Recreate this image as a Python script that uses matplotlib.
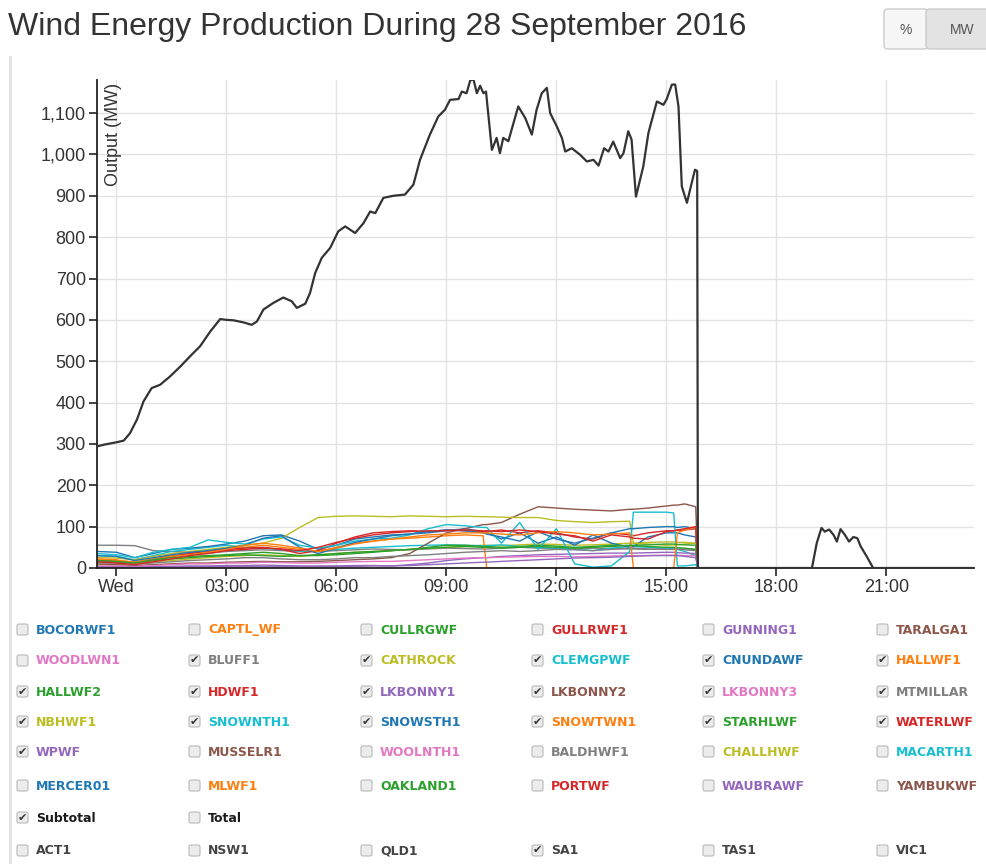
import matplotlib
matplotlib.use("Agg")
from matplotlib import pyplot as plt
from matplotlib import transforms
from matplotlib.patches import FancyBboxPatch
from matplotlib.lines import Line2D

plt.rcParams["font.family"] = ["Liberation Sans", "DejaVu Sans"]

W, H = 987, 864

# SA1 wind subtotal (MW), hours from midnight Wed 28 Sep 2016
sub_hours = [-0.53, -0.35, 0.0, 0.2, 0.37, 0.56, 0.74, 0.96, 1.19, 1.46, 1.74, 2.01, 2.28, 2.56, 2.83,
             3.0, 3.19, 3.46, 3.69, 3.83, 4.01, 4.28, 4.55, 4.78, 4.92, 5.15, 5.28, 5.42, 5.6, 5.83,
             6.05, 6.24, 6.51, 6.74, 6.92, 7.06, 7.28, 7.55, 7.87, 8.1, 8.28, 8.55, 8.78, 8.96, 9.1,
             9.33, 9.42, 9.55, 9.65, 9.74, 9.83, 9.92, 10.01, 10.08, 10.24, 10.37, 10.46, 10.55, 10.69,
             10.83, 10.96, 11.15, 11.33, 11.46, 11.6, 11.74, 11.83, 12.01, 12.15, 12.24, 12.42, 12.65,
             12.83, 13.01, 13.15, 13.3, 13.42, 13.55, 13.74, 13.83, 13.96, 14.05, 14.17, 14.37, 14.51,
             14.74, 14.92, 15.01, 15.15, 15.24, 15.33, 15.42, 15.56, 15.69, 15.78, 15.84, 15.86,
             18.97, 19.1, 19.23, 19.32, 19.44, 19.56, 19.65, 19.75, 19.87, 19.98, 20.1, 20.21, 20.3,
             20.45, 20.64, 23.39]
sub_mw = [294, 298, 304, 308, 326, 359, 403, 435, 443, 463, 487, 512, 536, 572, 602,
          600, 599, 594, 588, 596, 625, 641, 654, 645, 629, 639, 665, 713, 750, 774,
          814, 826, 810, 834, 862, 858, 895, 900, 903, 927, 987, 1048, 1092, 1108, 1132,
          1134, 1152, 1148, 1179, 1181, 1148, 1166, 1148, 1152, 1011, 1040, 1003, 1040, 1032,
          1076, 1116, 1088, 1048, 1108, 1148, 1161, 1100, 1068, 1040, 1007, 1015, 999,
          983, 987, 973, 1015, 1007, 1031, 991, 1003, 1056, 1036, 898, 971, 1052,
          1128, 1120, 1134, 1169, 1169, 1116, 923, 883, 931, 963, 960, 0,
          0, 60, 97, 88, 93, 80, 64, 94, 80, 64, 75, 72, 52,
          30, 0, 0]

# individual wind farms (MW)
farm_hours = [-0.53, 0.0, 0.5, 1.0, 1.5, 2.0, 2.5, 3.0, 3.5, 4.0, 4.5,
              5.0, 5.5, 6.0, 6.5, 7.0, 7.5, 8.0, 8.5, 9.0, 9.5, 10.0,
              10.1, 10.5, 11.0, 11.5, 12.0, 12.5, 13.0, 13.5, 14.0,
              14.1, 14.5, 15.0, 15.2, 15.3, 15.5, 15.8, 15.86]
bluff1 = [55, 55, 54, 42, 40, 38, 36, 40, 42, 44, 42,
          40, 40, 42, 44, 46, 45, 44, 46, 48, 47, 46,
          46, 48, 50, 48, 47, 46, 48, 47, 46,
          46, 45, 47, 47, 46, 46, 45, 0]
cathrock = [8, 8, 10, 15, 18, 22, 25, 28, 30, 32, 30,
            28, 32, 35, 38, 40, 42, 45, 48, 50, 52, 55,
            55, 54, 56, 58, 57, 55, 56, 58, 60,
            60, 62, 63, 63, 62, 62, 60, 0]
clemgpwf = [30, 28, 20, 30, 40, 45, 50, 55, 50, 48, 45,
            40, 42, 45, 48, 50, 52, 54, 55, 56, 55, 54,
            54, 56, 52, 50, 48, 45, 42, 48, 52,
            52, 50, 48, 47, 45, 40, 30, 0]
cnundawf = [40, 38, 25, 35, 45, 48, 52, 58, 65, 78, 80,
            65, 45, 55, 70, 75, 80, 82, 85, 90, 95, 88,
            85, 70, 85, 60, 75, 55, 80, 60, 50,
            52, 75, 85, 85, 85, 80, 75, 0]
hallwf1 = [20, 18, 15, 22, 30, 35, 40, 48, 50, 55, 50,
           45, 40, 50, 60, 65, 70, 72, 75, 78, 80, 78,
           0, 0, 0, 0, 0, 0, 0, 0, 0,
           0, 0, 0, 0, 0, 0, 0, 0]
hallwf2 = [15, 14, 12, 18, 22, 25, 28, 30, 32, 30, 28,
           30, 32, 35, 38, 40, 42, 45, 50, 55, 55, 52,
           52, 50, 52, 55, 53, 50, 52, 55, 54,
           54, 52, 50, 50, 49, 48, 45, 0]
hdwf1 = [18, 15, 10, 20, 28, 35, 40, 45, 48, 50, 45,
         35, 42, 60, 75, 85, 88, 90, 88, 92, 90, 88,
         88, 92, 85, 90, 85, 75, 70, 85, 80,
         78, 85, 90, 90, 91, 92, 95, 0]
lkbonny1 = [3, 3, 2, 3, 4, 5, 5, 6, 6, 7, 6,
            5, 5, 5, 6, 6, 5, 8, 12, 18, 22, 25,
            25, 28, 30, 32, 33, 34, 35, 36, 36,
            36, 37, 38, 38, 37, 36, 35, 0]
lkbonny2 = [10, 8, 6, 8, 10, 12, 12, 14, 15, 16, 15,
            15, 16, 18, 20, 22, 25, 35, 60, 85, 95, 105,
            105, 110, 130, 148, 145, 142, 140, 138, 142,
            142, 145, 150, 152, 152, 155, 148, 0]
lkbonny3 = [5, 5, 4, 6, 8, 10, 10, 12, 12, 14, 13,
            12, 12, 14, 15, 16, 16, 18, 20, 22, 24, 25,
            25, 26, 27, 28, 28, 27, 28, 29, 30,
            30, 30, 31, 31, 31, 30, 30, 0]
mtmillar = [12, 12, 10, 12, 15, 18, 20, 22, 25, 25, 22,
            20, 20, 22, 25, 25, 28, 30, 32, 35, 38, 40,
            40, 42, 40, 42, 45, 44, 42, 45, 48,
            48, 46, 45, 45, 45, 44, 42, 0]
nbhwf1 = [25, 24, 20, 28, 35, 40, 45, 50, 55, 60, 72,
          98, 122, 125, 126, 125, 124, 126, 125, 124, 125, 124,
          124, 123, 122, 122, 115, 112, 110, 112, 113,
          60, 58, 55, 56, 56, 58, 60, 0]
snownth1 = [35, 32, 25, 38, 45, 50, 68, 62, 58, 70, 75,
            55, 48, 55, 65, 70, 72, 80, 95, 105, 102, 98,
            98, 60, 110, 45, 95, 10, 2, 5, 40,
            135, 135, 135, 133, 5, 5, 8, 0]
snowsth1 = [30, 28, 18, 25, 32, 38, 42, 48, 55, 72, 78,
            50, 35, 48, 62, 70, 78, 82, 88, 92, 90, 85,
            82, 75, 65, 88, 70, 60, 72, 85, 95,
            95, 98, 100, 100, 98, 100, 95, 0]
snowtwn1 = [22, 20, 12, 20, 28, 32, 38, 45, 55, 60, 55,
            48, 40, 48, 58, 65, 70, 75, 80, 82, 85, 85,
            85, 82, 80, 85, 88, 85, 80, 82, 85,
            0, 0, 0, 0, 85, 92, 98, 0]
starhlwf = [18, 16, 12, 20, 25, 28, 30, 32, 35, 38, 35,
            30, 30, 32, 35, 38, 42, 45, 48, 50, 52, 50,
            50, 48, 50, 52, 50, 48, 50, 52, 55,
            55, 56, 58, 58, 57, 56, 55, 0]
waterlwf = [15, 12, 8, 15, 22, 30, 35, 42, 45, 48, 46,
            42, 50, 62, 72, 80, 85, 88, 90, 90, 92, 90,
            90, 88, 92, 88, 82, 78, 65, 80, 75,
            72, 70, 88, 90, 92, 95, 100, 0]
wpwf = [2, 2, 2, 2, 3, 3, 3, 3, 3, 3, 3,
        3, 3, 4, 4, 5, 5, 6, 8, 10, 12, 14,
        14, 16, 18, 20, 22, 24, 25, 26, 28,
        28, 30, 30, 30, 30, 28, 25, 0]

plotted = {
    "BLUFF1": bluff1, "CATHROCK": cathrock, "CLEMGPWF": clemgpwf, "CNUNDAWF": cnundawf,
    "HALLWF1": hallwf1, "HALLWF2": hallwf2, "HDWF1": hdwf1, "LKBONNY1": lkbonny1,
    "LKBONNY2": lkbonny2, "LKBONNY3": lkbonny3, "MTMILLAR": mtmillar, "NBHWF1": nbhwf1,
    "SNOWNTH1": snownth1, "SNOWSTH1": snowsth1, "SNOWTWN1": snowtwn1, "STARHLWF": starhlwf,
    "WATERLWF": waterlwf, "WPWF": wpwf,
}

legend_rows = [
    ["BOCORWF1", "CAPTL_WF", "CULLRGWF", "GULLRWF1", "GUNNING1", "TARALGA1"],
    ["WOODLWN1", "BLUFF1", "CATHROCK", "CLEMGPWF", "CNUNDAWF", "HALLWF1"],
    ["HALLWF2", "HDWF1", "LKBONNY1", "LKBONNY2", "LKBONNY3", "MTMILLAR"],
    ["NBHWF1", "SNOWNTH1", "SNOWSTH1", "SNOWTWN1", "STARHLWF", "WATERLWF"],
    ["WPWF", "MUSSELR1", "WOOLNTH1", "BALDHWF1", "CHALLHWF", "MACARTH1"],
    ["MERCER01", "MLWF1", "OAKLAND1", "PORTWF", "WAUBRAWF", "YAMBUKWF"],
    ["Subtotal", "Total"],
    ["ACT1", "NSW1", "QLD1", "SA1", "TAS1", "VIC1"],
]
checked = set(plotted) | {"Subtotal", "SA1"}

x_ticks = [0, 3, 6, 9, 12, 15, 18, 21]
x_labels = ["Wed", "03:00", "06:00", "09:00", "12:00", "15:00", "18:00", "21:00"]
y_ticks = list(range(0, 1200, 100))

palette = ["#1f77b4", "#ff7f0e", "#2ca02c", "#d62728", "#9467bd",
           "#8c564b", "#e377c2", "#7f7f7f", "#bcbd22", "#17becf"]
farm_names = [n for row in legend_rows[:6] for n in row]
farm_color = {n: palette[i % 10] for i, n in enumerate(farm_names)}

fig = plt.figure(figsize=(W / 100, H / 100), dpi=100)
# pixel coordinates, origin top-left
tr = transforms.Affine2D().scale(1 / W, -1 / H).translate(0, 1) + fig.transFigure

ax = fig.add_axes([97 / W, 1 - 568 / H, (974 - 97) / W, (568 - 80) / H])
for name in farm_names:
    if name in plotted:
        ax.plot(farm_hours, plotted[name], color=farm_color[name], lw=1.0, zorder=2)
ax.plot(sub_hours, sub_mw, color="#333333", lw=1.6, zorder=3)

ax.set_xlim(-0.53, 23.39)
ax.set_ylim(0, 1180)
ax.set_xticks(x_ticks)
ax.set_xticklabels(x_labels)
ax.set_yticks(y_ticks)
ax.set_yticklabels([f"{v:,}" for v in y_ticks])
ax.grid(color="#e2e2e2", lw=1)
ax.set_axisbelow(True)
for s in ["top", "right"]:
    ax.spines[s].set_visible(False)
for s in ["left", "bottom"]:
    ax.spines[s].set_color("#222222")
    ax.spines[s].set_linewidth(1.3)
ax.tick_params(length=6, width=1.2, color="#222222", labelsize=13, labelcolor="#333333", pad=2)
ax.text(0.019, 0.995, "Output (MW)", transform=ax.transAxes, rotation=90,
        ha="center", va="top", fontsize=13, color="#333333")

# title and unit buttons
fig.text(8, 35, "Wind Energy Production During 28 September 2016", transform=tr,
         fontsize=23, color="#333333", va="baseline", ha="left")
fig.patches.append(FancyBboxPatch((884, 9), 44, 40, boxstyle="round,pad=0,rounding_size=4",
                                  fc="#f7f7f7", ec="#cccccc", lw=1, transform=tr, figure=fig))
fig.patches.append(FancyBboxPatch((926, 9), 70, 40, boxstyle="round,pad=0,rounding_size=4",
                                  fc="#e3e3e3", ec="#cccccc", lw=1, transform=tr, figure=fig))
fig.text(906, 30, "%", transform=tr, fontsize=10, color="#555555", ha="center", va="center")
fig.text(962, 30, "MW", transform=tr, fontsize=10, color="#555555", ha="center", va="center")
fig.lines.append(Line2D([10, 10], [57, 864], transform=tr, color="#e2e2e2", lw=2, figure=fig))

# checkbox legend
col_x = [17, 189, 361, 532, 703, 877]
row_y = [630, 661, 692, 722, 752, 786, 818, 851]
for r, row in enumerate(legend_rows):
    y = row_y[r]
    for c, name in enumerate(row):
        x = col_x[c]
        if name in farm_color:
            col = farm_color[name]
        elif name in ("Subtotal", "Total"):
            col = "#1a1a1a"
        else:
            col = "#444444"
        fig.patches.append(FancyBboxPatch((x, y - 6), 11, 11, boxstyle="round,pad=0,rounding_size=2",
                                          fc="#ececec", ec="#b8b8b8", lw=0.8, transform=tr, figure=fig))
        if name in checked:
            fig.text(x + 5.5, y - 0.5, "\u2714", transform=tr, fontsize=8, color="#333333",
                     ha="center", va="center", family="DejaVu Sans")
        fig.text(x + 19, y, name, transform=tr, fontsize=9, fontweight="bold", color=col,
                 ha="left", va="center", family="DejaVu Sans")

fig.savefig("out.png", dpi=100)
